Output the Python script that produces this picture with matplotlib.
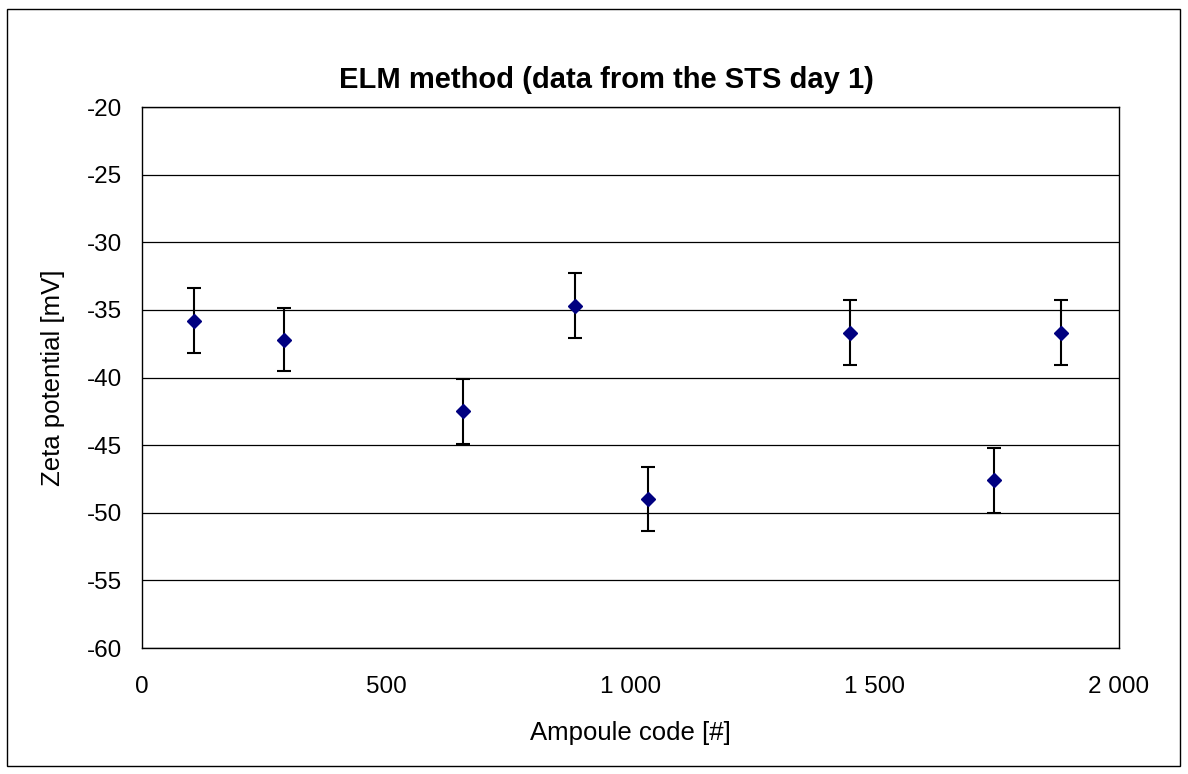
import matplotlib
matplotlib.use("Agg")
import matplotlib.pyplot as plt
from matplotlib.ticker import FuncFormatter, MultipleLocator
from matplotlib.patches import Rectangle

plt.rcParams['font.family'] = ['Liberation Sans', 'DejaVu Sans']

ampoule = [107, 291, 658, 887, 1037, 1449, 1744, 1881]
zeta = [-35.8, -37.2, -42.5, -34.7, -49.0, -36.7, -47.6, -36.7]
err = [2.4, 2.35, 2.4, 2.4, 2.35, 2.4, 2.4, 2.4]

title = "ELM method (data from the STS day 1)"
xlabel = "Ampoule code [#]"
ylabel = "Zeta potential [mV]"

W, H = 1188, 774
fig = plt.figure(figsize=(W / 100, H / 100), dpi=100)
ax = fig.add_axes([141.7 / W, 1 - 648 / H, (1118.7 - 141.7) / W, (648 - 107) / H])

ax.errorbar(ampoule, zeta, yerr=err, fmt='D', color='#000080', markersize=7,
            ecolor='black', elinewidth=1.5, capsize=5, capthick=1.5, zorder=3)

ax.set_xlim(0, 2000)
ax.set_ylim(-60, -20)
ax.xaxis.set_major_locator(MultipleLocator(500))
ax.yaxis.set_major_locator(MultipleLocator(5))
ax.xaxis.set_major_formatter(FuncFormatter(lambda v, p: f"{int(v):,}".replace(",", " ")))
ax.yaxis.set_major_formatter(FuncFormatter(lambda v, p: f"{int(v)}"))
ax.yaxis.grid(True, color='black', linewidth=0.9)
ax.set_axisbelow(True)
ax.tick_params(axis='both', length=0, labelsize=17.5)
ax.tick_params(axis='y', pad=14)
ax.tick_params(axis='x', pad=20)
for s in ax.spines.values():
    s.set_linewidth(1.0)
    s.set_color('black')

ax.set_xlabel(xlabel, fontsize=18.5, labelpad=17)
ax.set_ylabel(ylabel, fontsize=18.5, labelpad=16)
fig.text(606 / W, 1 - 80 / H, title, fontsize=21, fontweight='bold', ha='center', va='center')

fig.patches.append(Rectangle((7 / W, 1 - 766 / H), (1180 - 7) / W, (766 - 9) / H,
                             transform=fig.transFigure, fill=False, edgecolor='black', linewidth=1.0))

fig.savefig("out.png", dpi=100)
